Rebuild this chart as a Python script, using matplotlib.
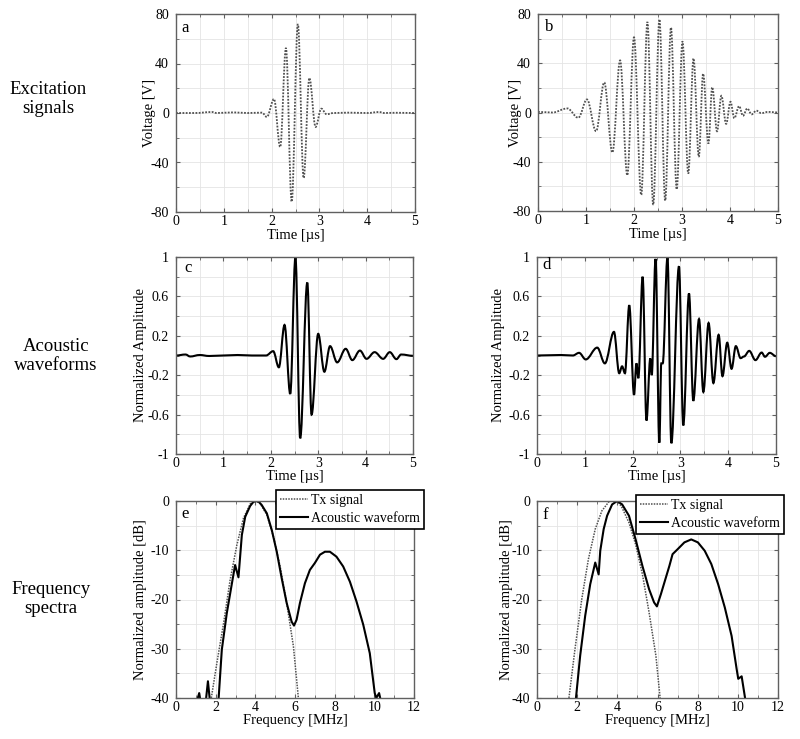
import matplotlib
matplotlib.use("Agg")
import matplotlib.pyplot as plt
from matplotlib.path import Path
from matplotlib.patches import PathPatch
from matplotlib.ticker import MultipleLocator

plt.rcParams['font.family'] = ['Liberation Serif', 'DejaVu Serif']
plt.rcParams['axes.unicode_minus'] = False

# ---- excitation signals (extrema) ----
a_t = [0, 0.4, 0.75, 0.85, 1.2, 1.5, 1.8, 1.9, 2.05, 2.18, 2.30, 2.42, 2.55, 2.67,
       2.79, 2.92, 3.04, 3.15, 3.3, 3.6, 4.0, 4.25, 4.35, 4.6, 5.0]
a_v = [0, 0, 0.8, 0, 0.5, 0, 0.3, -3.2, 11.3, -27.5, 52.6, -71.8, 71.8, -52.6,
       28.3, -11.3, 3.5, -1.0, 0, 0.3, 0, 0.8, 0, 0.2, 0]

b_t = [0, 0.3, 0.61, 0.84, 1.02, 1.21, 1.38, 1.55, 1.71, 1.86, 2.00, 2.15, 2.28,
       2.40, 2.53, 2.65, 2.77, 2.89, 3.01, 3.13, 3.24, 3.35, 3.44, 3.55, 3.63,
       3.73, 3.82, 3.92, 4.01, 4.09, 4.19, 4.27, 4.36, 4.45, 4.55, 4.65, 4.8, 5.0]
b_v = [0.5, 0, 3.3, -4.3, 10.6, -15.2, 24.4, -32.5, 42.3, -51, 61, -67, 73.5,
       -75, 75.7, -71.6, 69, -62.4, 57.8, -49.6, 44, -36, 31.5, -25.2, 20.6,
       -15.2, 13.6, -9.2, 8.7, -4.6, 5.2, -2.7, 3.3, -1.5, 1.5, -0.5, 0.5, 0]

# ---- acoustic waveforms ----
c_t = [0, 0.2, 0.3, 0.5, 0.7, 1.0, 1.3, 1.6, 1.9, 2.05, 2.17, 2.29, 2.41, 2.52,
       2.62, 2.77, 2.86, 3.00, 3.13, 3.25, 3.40, 3.58, 3.72, 3.88, 4.02, 4.19,
       4.37, 4.51, 4.65, 4.75, 5.0]
c_v = [0, 0.01, -0.01, 0.005, -0.005, 0, 0.005, 0, 0, 0.044, -0.12, 0.31, -0.39,
       1.0, -0.84, 0.74, -0.60, 0.22, -0.165, 0.095, -0.07, 0.068, -0.047, 0.05,
       -0.034, 0.034, -0.034, 0.034, -0.037, 0.01, -0.003]

d_t = [0, 0.5, 0.75, 0.88, 1.02, 1.26, 1.42, 1.61, 1.72, 1.78, 1.84, 1.93, 2.03,
       2.08, 2.12, 2.21, 2.29, 2.37, 2.40, 2.48, 2.56, 2.60, 2.63, 2.73, 2.81,
       2.97, 3.06, 3.18, 3.27, 3.39, 3.48, 3.59, 3.69, 3.80, 3.88, 3.98, 4.07,
       4.16, 4.26, 4.33, 4.44, 4.57, 4.70, 4.77, 4.87, 5.0]
d_v = [0, 0.005, 0, 0.027, -0.04, 0.08, -0.08, 0.24, -0.18, -0.11, -0.18, 0.51,
       -0.40, -0.08, -0.23, 0.80, -0.66, -0.03, -0.2, 0.98, -0.885, -0.08, -0.08,
       1.0, -0.89, 0.905, -0.71, 0.63, -0.46, 0.37, -0.37, 0.33, -0.28, 0.21,
       -0.21, 0.13, -0.135, 0.095, -0.027, -0.01, 0.047, -0.047, 0.03, -0.013,
       0.027, -0.007]

# ---- frequency spectra ----
e_tx_f = [1.7, 1.78, 2.06, 2.40, 2.73, 3.07, 3.40, 3.74, 3.87, 3.99, 4.12, 4.24,
          4.58, 4.91, 5.25, 5.58, 5.92, 6.17, 6.25]
e_tx_v = [-45, -40, -32.9, -24.8, -16.0, -8.9, -3.5, -0.6, -0.15, 0, -0.15, -0.5,
          -2.8, -7.2, -13.3, -20.7, -29.5, -40, -45]
e_ac_f = [1.0, 1.1, 1.17, 1.25, 1.4, 1.52, 1.61, 1.72, 1.9, 2.05, 2.15, 2.31, 2.56,
          2.82, 2.98, 3.15, 3.32, 3.49, 3.74, 3.9, 4.04, 4.18, 4.32, 4.58, 4.83,
          5.08, 5.33, 5.58, 5.83, 5.95, 6.08, 6.25, 6.50, 6.75, 7.0, 7.26, 7.51,
          7.76, 8.09, 8.43, 8.77, 9.10, 9.44, 9.77, 10.02, 10.1, 10.24, 10.35, 10.5]
e_ac_v = [-45, -40, -39, -41, -45, -40, -36.6, -41, -45, -45, -40, -30.2, -22.8,
          -16.7, -13, -15.5, -6.9, -3.2, -1, -0.2, 0, -0.2, -0.8, -2.5, -5.9,
          -10.3, -15.7, -20.7, -24.5, -25.3, -24.1, -20.7, -16.7, -14, -12.6,
          -10.9, -10.3, -10.3, -11.3, -13.3, -16.4, -20.4, -25.1, -30.9, -39,
          -40, -39, -41, -45]

f_tx_f = [1.5, 1.59, 1.89, 2.23, 2.56, 2.90, 3.23, 3.57, 3.75, 3.94, 4.1, 4.24,
          4.58, 4.91, 5.25, 5.58, 5.92, 6.13, 6.2]
f_tx_v = [-45, -40, -30.1, -19.9, -11.8, -5.7, -2.0, -0.2, 0, 0, -0.5, -1.4,
          -4.4, -8.8, -14.9, -22.6, -31.4, -40, -45]
f_ac_f = [1.9, 1.94, 2.15, 2.40, 2.65, 2.90, 3.07, 3.15, 3.32, 3.49, 3.74, 3.99,
          4.24, 4.58, 4.91, 5.25, 5.58, 5.83, 5.97, 6.17, 6.42, 6.59, 6.75, 7.0,
          7.34, 7.68, 8.01, 8.35, 8.68, 9.02, 9.35, 9.69, 9.94, 10.02, 10.19,
          10.36, 10.45]
f_ac_v = [-45, -40, -31.4, -23.3, -16.9, -12.5, -14.9, -10.1, -5.7, -3, -0.7, 0,
          -0.7, -3, -7.8, -13.2, -17.9, -20.6, -21.4, -18.9, -15.5, -13.2, -10.8,
          -9.8, -8.4, -7.8, -8.4, -10.1, -12.8, -16.9, -21.6, -27.4, -34.1, -36.1,
          -35.6, -40, -45]

row_labels = ["Excitation\nsignals", "Acoustic\nwaveforms", "Frequency\nspectra"]

SPINE = '#606060'
TX_COL = '#505050'


def smooth_path(x, y):
    """ Curve through the extrema with flat tangents at each one """
    verts = [(x[0], y[0])]
    codes = [Path.MOVETO]
    for i in range(len(x) - 1):
        dx = x[i + 1] - x[i]
        verts += [(x[i] + 0.36 * dx, y[i]), (x[i + 1] - 0.36 * dx, y[i + 1]),
                  (x[i + 1], y[i + 1])]
        codes += [Path.CURVE4] * 3
    return Path(verts, codes)


def style_axes(ax, xmaj, xmin, ymaj, ymin, letter, lpos):
    ax.xaxis.set_major_locator(MultipleLocator(xmaj))
    ax.xaxis.set_minor_locator(MultipleLocator(xmin))
    ax.yaxis.set_major_locator(MultipleLocator(ymaj))
    ax.yaxis.set_minor_locator(MultipleLocator(ymin))
    ax.grid(True, which='both', color='#e4e4e4', lw=0.6)
    ax.set_axisbelow(True)
    for s in ax.spines.values():
        s.set_color(SPINE)
        s.set_linewidth(1.0)
    ax.tick_params(which='both', direction='in', top=True, right=True,
                   color=SPINE, labelsize=10)
    ax.tick_params(axis='x', which='both', pad=2)
    ax.tick_params(axis='y', which='both', pad=5)
    ax.tick_params(which='major', length=3)
    ax.tick_params(which='minor', length=2)
    ax.text(lpos[0], lpos[1], letter, transform=ax.transAxes, fontsize=12,
            ha='center', va='center')


fig = plt.figure(figsize=(8, 7.39), dpi=100)
H = 739.0


def add_ax(l, r, t, b):
    return fig.add_axes([l / 800, 1 - b / H, (r - l) / 800, (b - t) / H])


ax_a = add_ax(176, 415, 14, 212)
ax_b = add_ax(538, 778, 14, 211)
ax_c = add_ax(176, 413, 257, 454)
ax_d = add_ax(537, 776, 257, 454)
ax_e = add_ax(176, 414, 501, 698)
ax_f = add_ax(537, 778, 501, 698)

# excitation signals
for ax, t, v, letter, lpos, ylc in [
        (ax_a, a_t, a_v, 'a', (0.04, 0.93), -0.084),
        (ax_b, b_t, b_v, 'b', (0.045, 0.934), -0.067)]:
    ax.add_patch(PathPatch(smooth_path(t, v), fill=False, edgecolor=TX_COL,
                           lw=1.3, linestyle=(0, (1, 0.8))))
    ax.set_xlim(0, 5)
    ax.set_ylim(-80, 80)
    style_axes(ax, 1, 0.5, 40, 20, letter, lpos)
    ax.set_xticks([0, 1, 2, 3, 4, 5])
    ax.set_yticks([-80, -40, 0, 40, 80])
    ax.set_xlabel('Time [\u00b5s]', fontsize=10.5, labelpad=1)
    ax.set_ylabel('Voltage [V]', fontsize=10.5)
    ax.yaxis.set_label_coords(ylc, 0.5)

# acoustic waveforms
for ax, t, v, letter, lpos, ylc in [
        (ax_c, c_t, c_v, 'c', (0.05, 0.944), -0.122),
        (ax_d, d_t, d_v, 'd', (0.038, 0.96), -0.134)]:
    ax.add_patch(PathPatch(smooth_path(t, v), fill=False, edgecolor='black',
                           lw=1.5))
    ax.set_xlim(0, 5)
    ax.set_ylim(-1, 1)
    style_axes(ax, 1, 0.5, 0.4, 0.2, letter, lpos)
    ax.set_xticks([0, 1, 2, 3, 4, 5])
    ax.set_yticks([-1, -0.6, -0.2, 0.2, 0.6, 1])
    ax.set_yticklabels(['-1', '-0.6', '-0.2', '0.2', '0.6', '1'])
    ax.set_xlabel('Time [\u00b5s]', fontsize=10.5, labelpad=0)
    ax.set_ylabel('Normalized Amplitude', fontsize=10.5)
    ax.yaxis.set_label_coords(ylc, 0.5)

# frequency spectra
for ax, tf, tv, af, av, letter, lpos, ylc, anchor in [
        (ax_e, e_tx_f, e_tx_v, e_ac_f, e_ac_v, 'e', (0.038, 0.934), -0.122,
         (1.042, 1.056)),
        (ax_f, f_tx_f, f_tx_v, f_ac_f, f_ac_v, 'f', (0.036, 0.93), -0.1,
         (1.025, 1.03))]:
    ax.plot(tf, tv, color=TX_COL, lw=1.1, linestyle=(0, (1, 0.8)), label='Tx signal')
    ax.plot(af, av, color='black', lw=1.5, label='Acoustic waveform')
    ax.set_xlim(0, 12)
    ax.set_ylim(-40, 0)
    style_axes(ax, 2, 1, 10, 5, letter, lpos)
    ax.set_xlabel('Frequency [MHz]', fontsize=10.5, labelpad=0)
    ax.set_ylabel('Normalized amplitude [dB]', fontsize=10.5)
    ax.yaxis.set_label_coords(ylc, 0.5)
    leg = ax.legend(loc='upper right', bbox_to_anchor=anchor, fontsize=10,
                    frameon=True, fancybox=False, framealpha=1, edgecolor='black',
                    borderpad=0.3, labelspacing=0.35, handlelength=2.0,
                    handletextpad=0.2, borderaxespad=0)
    leg.get_frame().set_linewidth(1.2)
    leg.set_zorder(5)

# row labels on the left
for txt, x, y in zip(row_labels, [48, 56, 51], [99, 356, 599]):
    fig.text(x / 800, 1 - y / H, txt, ha='center', va='center', fontsize=13.5,
             linespacing=1.2)

fig.savefig('out.png', dpi=100)
